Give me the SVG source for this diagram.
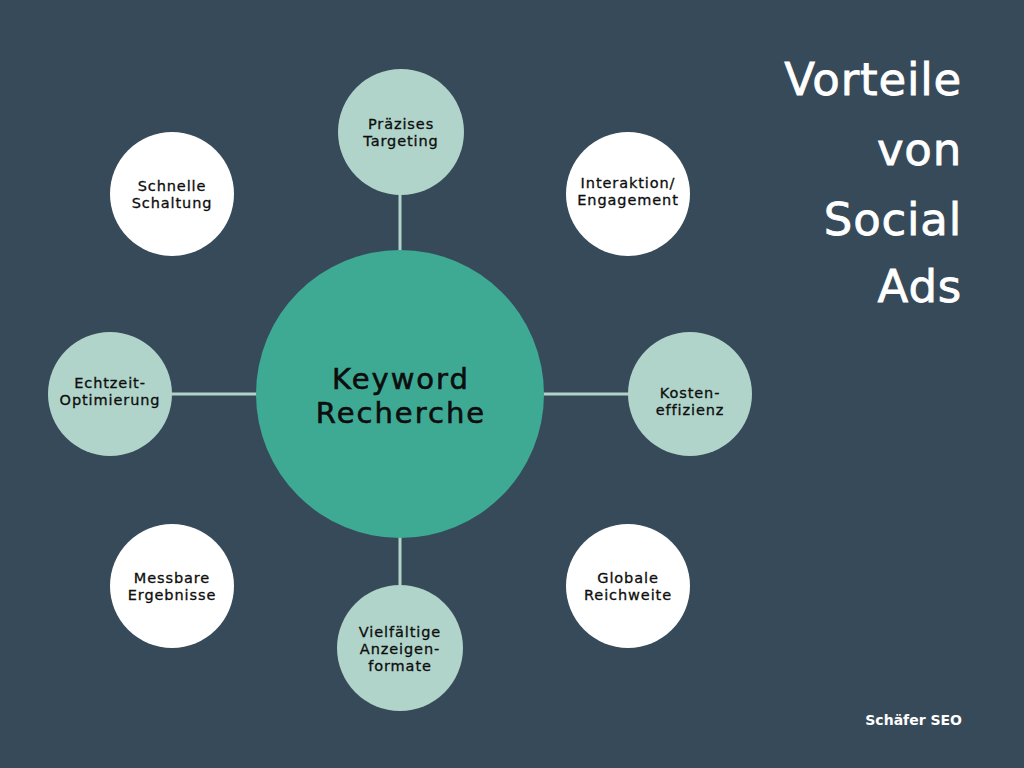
<svg xmlns="http://www.w3.org/2000/svg" width="1024" height="768" viewBox="0 0 1024 768">
<style>
.bg{fill:#374a5a}
.line{stroke:#b0d4ca;stroke-width:3;fill:none}
.light{fill:#b0d4ca}
.white{fill:#ffffff}
.core{fill:#3eaa94}
.t{font-family:"DejaVu Sans","Noto Sans",sans-serif;font-size:14.5px;fill:#0d0d0d;stroke:#0d0d0d;stroke-width:0.3px;text-anchor:middle;letter-spacing:0.9px}
.tc{font-family:"DejaVu Sans","Noto Sans",sans-serif;font-size:29px;fill:#0d0d0d;stroke:#0d0d0d;stroke-width:0.6px;text-anchor:middle;letter-spacing:2px}
.title{font-family:"DejaVu Sans","Noto Sans",sans-serif;font-size:45px;fill:#ffffff;stroke:#ffffff;stroke-width:0.8px;text-anchor:end;letter-spacing:0.8px}
.foot{font-family:"DejaVu Sans","Noto Sans",sans-serif;font-size:14px;font-weight:bold;fill:#ffffff;text-anchor:end}
</style>
<rect class="bg" x="0" y="0" width="1024" height="768"/>
<g id="connectors">
<line class="line" x1="400" y1="194" x2="400" y2="252"/>
<line class="line" x1="400" y1="536" x2="400" y2="587"/>
<line class="line" x1="171" y1="394" x2="258" y2="394"/>
<line class="line" x1="542" y1="394" x2="630" y2="394"/>
</g>
<g id="center">
<circle class="core" cx="400" cy="394" r="144"/>
<text class="tc" x="401" y="389">Keyword</text>
<text class="tc" x="401" y="423">Recherche</text>
</g>
<g id="n-praezises">
<circle class="light" cx="401" cy="132" r="63"/>
<text class="t" x="401" y="129">Präzises</text>
<text class="t" x="401" y="146">Targeting</text>
</g>
<g id="n-schnelle">
<circle class="white" cx="172" cy="194" r="62"/>
<text class="t" x="172" y="191">Schnelle</text>
<text class="t" x="172" y="208">Schaltung</text>
</g>
<g id="n-interaktion">
<circle class="white" cx="628" cy="194" r="62"/>
<text class="t" x="628" y="188">Interaktion/</text>
<text class="t" x="628" y="205">Engagement</text>
</g>
<g id="n-echtzeit">
<circle class="light" cx="110" cy="394" r="62"/>
<text class="t" x="110" y="388">Echtzeit-</text>
<text class="t" x="110" y="405">Optimierung</text>
</g>
<g id="n-kosten">
<circle class="light" cx="690" cy="394" r="62"/>
<text class="t" x="690" y="398">Kosten-</text>
<text class="t" x="690" y="415">effizienz</text>
</g>
<g id="n-messbare">
<circle class="white" cx="172" cy="586" r="62"/>
<text class="t" x="172" y="583">Messbare</text>
<text class="t" x="172" y="600">Ergebnisse</text>
</g>
<g id="n-globale">
<circle class="white" cx="628" cy="586" r="62"/>
<text class="t" x="628" y="583">Globale</text>
<text class="t" x="628" y="600">Reichweite</text>
</g>
<g id="n-vielfaeltige">
<circle class="light" cx="400" cy="648" r="63"/>
<text class="t" x="400" y="637">Vielfältige</text>
<text class="t" x="400" y="654">Anzeigen-</text>
<text class="t" x="400" y="671">formate</text>
</g>
<g id="title">
<text class="title" x="962" y="95">Vorteile</text>
<text class="title" x="962" y="165">von</text>
<text class="title" x="962" y="235">Social</text>
<text class="title" x="962" y="302">Ads</text>
</g>
<text class="foot" x="962" y="725">Schäfer SEO</text>
</svg>
